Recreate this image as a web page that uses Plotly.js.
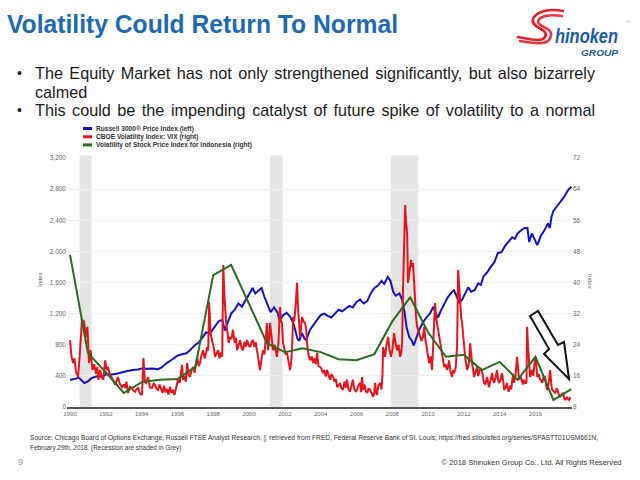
<!DOCTYPE html>
<html><head><meta charset="utf-8">
<script src="https://cdn.plot.ly/plotly-3.0.1.min.js"></script>
<style>
body{margin:0;width:640px;height:480px;overflow:hidden;background:#fff;font-family:"Liberation Sans",Arial,sans-serif;position:relative}
#chart{position:absolute;left:0;top:0;width:640px;height:480px}
.abs{position:absolute;white-space:nowrap}
#title{left:7px;top:9px;font-weight:bold;font-size:25px;color:#1f69b0;transform-origin:left top;display:inline-block;line-height:30px}
#bullets{position:absolute;left:17px;top:64px;width:578px;height:56px;overflow:hidden;font-size:16.2px;line-height:18.5px;color:#1a1a1a;text-align:justify}
.b{position:relative;padding-left:18px}
.b span.dot{position:absolute;left:0;top:0;font-size:14px}
#l3{white-space:nowrap;display:inline-block;transform-origin:left top}
#src{left:30px;top:433px;font-size:6.4px;color:#333;line-height:10px}
#src1{display:inline-block;transform-origin:left top}
#pg{left:18px;top:457px;font-size:9px;color:#999}
#copy{right:18px;top:458px;font-size:7.5px;color:#333;transform-origin:right top}
</style></head><body>
<div id="chart"></div>
<div class="abs" id="title">Volatility Could Return To Normal</div>
<svg class="abs" style="left:510px;top:4px" width="125" height="60" viewBox="510 4 125 60">
  <g fill="none" stroke="#e3202a" stroke-width="2.6" stroke-linecap="round">
    <path d="M563,11 C548,8 536,12 533,19 C531,25 540,28 544,31 C548,35 545,40 538,40 C530,40 524,38 518,37"/>
    <path d="M562,16 C549,14 540,16 538,21 C537,25 545,27 549,30 C553,34 551,42 542,43 C534,44 526,42 520,41" opacity="0.9"/>
  </g>
  <text x="555" y="43" font-family="Liberation Sans, Arial" font-weight="bold" font-style="italic" font-size="20" fill="#1a5aa8" textLength="63" lengthAdjust="spacingAndGlyphs">hinoken</text>
  <text x="581" y="56" font-family="Liberation Sans, Arial" font-weight="bold" font-style="italic" font-size="8.5" fill="#1a5aa8" textLength="37" lengthAdjust="spacingAndGlyphs">GROUP</text>
  <text x="627" y="23" font-family="Liberation Sans, Arial" font-size="4" fill="#777">®</text>
</svg>
<div id="bullets">
  <div class="b"><span class="dot">•</span>The Equity Market has not only strengthened significantly, but also bizarrely calmed</div>
  <div class="b"><span class="dot">•</span><span id="l3">This could be the impending catalyst of future spike of volatility to a normal</span></div>
</div>
<div class="abs" id="src"><span id="src1">Source: Chicago Board of Options Exchange, Russell FTSE Analyst Research, ], retrieved from FRED, Federal Reserve Bank of St. Louis; https://fred.stlouisfed.org/series/SPASTT01USM661N,</span><br>February 29th, 2018. (Recession are shaded in Grey)</div>
<div class="abs" id="pg">9</div>
<div class="abs" id="copy">© 2018 Shinoken Group Co., Ltd. All Rights Reserved</div>
<script>
// ---------------- DATA ----------------
const seriesNames = [
  "Russell 3000® Price Index (left)",
  "CBOE Volatility Index: VIX (right)",
  "Volatility of Stock Price Index for Indonesia (right)"
];
const xTickVals = [1990,1992,1994,1996,1998,2000,2002,2004,2006,2008,2010,2012,2014,2016];
const xTickText = ["1990","1992","1994","1996","1998","2000","2002","2004","2006","2008","2010","2012","2014","2016"];
const leftTicks = [0,400,800,1200,1600,2000,2400,2800,3200];
const rightTicks = [8,16,24,32,40,48,56,64,72];
const recStart = [1990.54, 2001.17, 2007.92];
const recEnd   = [1991.20, 2001.87, 2009.46];

const blueX = [1990.0,1990.25,1990.5,1990.65,1990.8,1991.0,1991.2,1991.5,1991.8,1992.0,1992.3,1992.6,1992.9,1993.2,1993.5,1993.8,1994.1,1994.3,1994.6,1994.9,1995.1,1995.4,1995.7,1996.0,1996.3,1996.5,1996.7,1997.0,1997.2,1997.4,1997.6,1997.8,1998.0,1998.3,1998.5,1998.65,1998.8,1999.0,1999.2,1999.4,1999.6,1999.8,2000.0,2000.2,2000.35,2000.5,2000.7,2000.85,2001.0,2001.2,2001.4,2001.6,2001.7,2001.9,2002.1,2002.3,2002.5,2002.7,2002.8,2002.95,2003.1,2003.2,2003.4,2003.6,2003.8,2004.0,2004.2,2004.4,2004.6,2004.8,2005.0,2005.2,2005.4,2005.6,2005.8,2006.0,2006.2,2006.4,2006.6,2006.8,2007.0,2007.2,2007.4,2007.55,2007.75,2007.9,2008.05,2008.2,2008.4,2008.55,2008.7,2008.8,2008.95,2009.1,2009.2,2009.35,2009.5,2009.7,2009.9,2010.1,2010.3,2010.4,2010.55,2010.7,2010.9,2011.1,2011.3,2011.45,2011.6,2011.75,2011.9,2012.1,2012.25,2012.4,2012.6,2012.8,2012.95,2013.1,2013.3,2013.5,2013.7,2013.9,2014.1,2014.3,2014.5,2014.7,2014.85,2015.0,2015.2,2015.4,2015.55,2015.65,2015.8,2016.0,2016.1,2016.3,2016.5,2016.7,2016.8,2016.9,2017.0,2017.2,2017.4,2017.6,2017.8,2018.0];
const blueY = [347,360,375,340,308,330,370,395,390,420,418,428,448,462,475,482,500,490,495,485,505,565,610,660,680,690,730,800,830,900,960,940,1000,1100,1120,980,1080,1200,1250,1330,1290,1380,1450,1530,1460,1490,1530,1420,1340,1220,1280,1210,1110,1180,1210,1160,1060,880,850,950,880,860,990,1060,1120,1180,1200,1170,1150,1200,1250,1230,1260,1300,1280,1350,1380,1330,1360,1460,1530,1560,1620,1580,1670,1620,1480,1430,1460,1380,1200,1020,900,850,790,900,990,1080,1150,1200,1290,1220,1150,1230,1330,1410,1470,1500,1420,1340,1380,1480,1540,1480,1500,1590,1570,1680,1730,1800,1860,1980,1990,2070,2120,2180,2160,2230,2270,2300,2300,2120,2230,2140,2080,2200,2270,2360,2300,2450,2520,2580,2640,2700,2780,2830];

const redX = [1990.0,1990.08,1990.17,1990.25,1990.33,1990.45,1990.55,1990.67,1990.78,1990.88,1990.97,1991.06,1991.15,1991.25,1991.35,1991.45,1991.52,1991.58,1991.68,1991.78,1991.86,1991.96,1992.05,1992.12,1992.22,1992.35,1992.45,1992.52,1992.6,1992.68,1992.78,1992.9,1993.0,1993.07,1993.15,1993.24,1993.35,1993.46,1993.55,1993.63,1993.72,1993.8,1993.9,1994.02,1994.1,1994.18,1994.25,1994.36,1994.46,1994.58,1994.67,1994.75,1994.84,1994.92,1995.0,1995.08,1995.17,1995.25,1995.33,1995.42,1995.5,1995.58,1995.67,1995.75,1995.83,1995.92,1996.03,1996.12,1996.2,1996.26,1996.31,1996.4,1996.47,1996.54,1996.62,1996.7,1996.78,1996.87,1996.95,1997.03,1997.1,1997.18,1997.26,1997.35,1997.43,1997.52,1997.6,1997.65,1997.72,1997.77,1997.85,1997.93,1998.02,1998.1,1998.18,1998.27,1998.35,1998.43,1998.5,1998.56,1998.62,1998.67,1998.73,1998.78,1998.86,1998.94,1999.02,1999.1,1999.2,1999.27,1999.33,1999.42,1999.5,1999.58,1999.66,1999.75,1999.82,1999.89,1999.97,2000.06,2000.14,2000.22,2000.3,2000.38,2000.45,2000.53,2000.61,2000.7,2000.78,2000.86,2000.93,2001.0,2001.06,2001.12,2001.17,2001.25,2001.34,2001.42,2001.5,2001.56,2001.64,2001.73,2001.79,2001.84,2001.9,2001.98,2002.05,2002.12,2002.2,2002.29,2002.35,2002.4,2002.46,2002.52,2002.6,2002.68,2002.74,2002.8,2002.85,2002.91,2002.96,2003.04,2003.13,2003.2,2003.24,2003.32,2003.4,2003.5,2003.58,2003.66,2003.73,2003.8,2003.88,2003.97,2004.05,2004.13,2004.2,2004.28,2004.36,2004.45,2004.53,2004.6,2004.7,2004.78,2004.85,2004.92,2005.0,2005.08,2005.16,2005.25,2005.33,2005.4,2005.47,2005.55,2005.64,2005.72,2005.8,2005.88,2005.95,2006.03,2006.1,2006.2,2006.26,2006.31,2006.37,2006.45,2006.53,2006.6,2006.68,2006.76,2006.85,2006.93,2007.0,2007.04,2007.1,2007.15,2007.22,2007.32,2007.4,2007.45,2007.49,2007.55,2007.6,2007.68,2007.77,2007.85,2007.93,2008.0,2008.1,2008.18,2008.27,2008.35,2008.44,2008.5,2008.55,2008.6,2008.67,2008.72,2008.78,2008.83,2008.88,2008.95,2009.05,2009.12,2009.16,2009.22,2009.27,2009.33,2009.39,2009.47,2009.55,2009.63,2009.72,2009.78,2009.86,2009.94,2010.0,2010.06,2010.14,2010.22,2010.28,2010.34,2010.39,2010.45,2010.5,2010.56,2010.61,2010.7,2010.78,2010.84,2010.9,2010.98,2011.06,2011.12,2011.17,2011.26,2011.34,2011.4,2011.45,2011.54,2011.62,2011.68,2011.74,2011.79,2011.85,2011.9,2011.96,2012.02,2012.07,2012.13,2012.18,2012.24,2012.3,2012.35,2012.4,2012.46,2012.52,2012.57,2012.65,2012.74,2012.8,2012.85,2012.92,2013.0,2013.06,2013.13,2013.2,2013.3,2013.4,2013.48,2013.58,2013.63,2013.69,2013.77,2013.85,2013.91,2013.97,2014.05,2014.13,2014.2,2014.25,2014.33,2014.4,2014.5,2014.58,2014.64,2014.7,2014.75,2014.8,2014.88,2014.97,2015.03,2015.08,2015.17,2015.25,2015.3,2015.36,2015.45,2015.5,2015.53,2015.58,2015.62,2015.7,2015.75,2015.8,2015.88,2015.98,2016.04,2016.1,2016.18,2016.26,2016.32,2016.37,2016.45,2016.54,2016.6,2016.65,2016.72,2016.82,2016.88,2016.93,2017.02,2017.1,2017.15,2017.2,2017.28,2017.37,2017.45,2017.54,2017.6,2017.65,2017.72,2017.77,2017.82,2017.88,2017.95];
const redY = [25.2,21,19.3,20.5,17,15.7,22,30.4,30,26,28.6,19.3,22.6,17.5,19,16.5,18.3,15,17.5,15.5,15,20,17.5,18.3,16.5,15.5,14.5,13.7,14.5,15.7,14,13.1,13.8,12.9,14.5,11.6,13.2,12.9,12.2,11.9,12.6,12.9,11.5,11.1,20.6,14.5,14.2,15.7,13,12.9,14,13.7,12.6,12.4,13.8,12.9,11.6,13.5,11.8,12.6,11.2,13.2,11.6,12.4,11.1,12.8,15,14.2,17,18.8,15,16,14.5,19.3,16.5,15.7,17.5,18.3,16.8,19.5,20.9,18.5,19.3,21.5,22.6,20.5,21.8,23.4,22.5,35,27,25.2,23.5,20.9,21.8,22.6,20.5,22,20.9,44.5,37,33,29,27.8,24.5,26,25.5,27.8,24.5,25.8,22.6,24,25.2,23.2,22.6,24.8,23.5,25.2,24,23.4,24.8,25.2,23.5,24.6,22.6,21,17.5,20.5,22.6,21.5,25.5,29.6,22.6,25,29.6,26.5,22.6,24,21.5,20.9,24.5,33.7,30,29.6,24.4,23,21.5,21.9,19.5,17.5,19.5,22.6,31.1,30,34,39.9,33,29,26,28.5,31.1,30,29.6,27.5,24.4,21.5,20,21,19.3,20.5,19,21.9,18.5,18.3,17.8,16.7,17.5,15.8,17.5,16,15,16.5,15.7,14.5,15.2,13.1,13.5,14.2,12.8,12.4,14.5,13,15,12.7,11.9,13.5,15,12.5,12,12.4,13.5,14.2,11.8,15.7,12.4,13.8,12,11.6,12.8,12.4,11.2,10.6,12,14.2,11.6,11.1,13.5,14.2,12.5,16,23.4,21.5,20.9,24,26,22.5,20.9,22.5,27,24.5,22.6,24,20.9,22,24.4,38,50,59.9,55,52.7,39.9,43,45.8,44,45,40,34.7,31,28.6,27.5,26,25,26,28.6,25,22.6,20.5,19.3,21,17.5,23.4,30,34.7,31,29.6,27,26,23,21.9,20,18.3,19,17.5,18.5,20,17,15.7,17.5,16.7,18,23.4,43.2,38,35.5,31,29.6,26,23,20.9,19,17.5,18.3,20,24.4,21.5,19.3,17.5,15.7,17,18.3,16,16.7,18,17.5,15.5,14.2,13.8,15.7,13.1,14.5,16.7,15,14.2,15.5,17.5,15,14.2,15,16.7,14.5,12.4,13,14.2,11.9,13.5,12.5,15.7,16.5,14.2,16,20.9,18,15,16,14.2,13.8,15,14,14.5,28.6,24,20.9,15.7,16.5,17.5,16,20.9,19,15.7,16.5,15,14.8,14.2,15.5,15.7,13.5,12.4,13.5,17.5,14,12.4,12,11.6,12.2,12.9,11.5,10.6,11.2,11.6,10.4,9.8,10.2,10.6,10,9.8,10.5];

const greenX = [1990,1991,1992,1993,1994,1995,1996,1997,1998,1999,2000,2001,2002,2003,2004,2005,2006,2007,2008,2009,2010,2011,2012,2013,2014,2015,2016,2017,2018];
const greenY = [47.1,21.9,16.9,11.6,14.4,15.0,15.2,18.3,41.9,44.5,34.5,24.4,22.1,23.1,22.1,20.3,20.0,21.6,30.0,36.2,27.2,20.9,21.4,17.5,19.6,15.0,20.9,9.8,12.6];

// ---------------- STYLE / LAYOUT ----------------
const colors = ["#1212c4", "#e8141b", "#2b6a20"];
const PL = 67, PR = 572, PT = 158, PB = 407;
const px2x = p => (p - PL) / (PR - PL);
const py2y = p => (PB - p) / (PB - PT);
const FONT = "Liberation Sans, Arial, sans-serif";

const traces = [
  {x: blueX, y: blueY, name: seriesNames[0], type: "scatter", mode: "lines", yaxis: "y",
   line: {color: colors[0], width: 2}},
  {x: redX, y: redY, name: seriesNames[1], type: "scatter", mode: "lines", yaxis: "y2",
   line: {color: colors[1], width: 2}},
  {x: greenX, y: greenY, name: seriesNames[2], type: "scatter", mode: "lines", yaxis: "y2",
   line: {color: colors[2], width: 2}}
];

const shapes = [];
recStart.forEach((s, i) => shapes.push({type: "rect", xref: "x", yref: "paper", x0: s, x1: recEnd[i], y0: 0, y1: 1.01,
  fillcolor: "#e4e4e4", line: {width: 0}, layer: "below"}));

// custom legend (compact)
const legendY = [128.5, 136.8, 144.9];
const annotations = [];
seriesNames.forEach((n, i) => {
  shapes.push({type: "line", xref: "paper", yref: "paper", x0: px2x(83), x1: px2x(92), y0: py2y(legendY[i]), y1: py2y(legendY[i]),
    line: {color: colors[i], width: 3}});
  annotations.push({xref: "paper", yref: "paper", x: px2x(94), y: py2y(legendY[i]), xanchor: "left", yanchor: "middle",
    text: "<b>" + n + "</b>", showarrow: false, font: {family: FONT, size: 6.6, color: "#333"}});
});
// axis titles
annotations.push({xref: "paper", yref: "paper", x: px2x(35), y: py2y(280), text: "Index", textangle: -90, showarrow: false,
  font: {family: FONT, size: 6, color: "#666"}});
annotations.push({xref: "paper", yref: "paper", x: px2x(595), y: py2y(281), text: "Index", textangle: 90, showarrow: false,
  font: {family: FONT, size: 6, color: "#666"}});

// outlined arrow (annotation drawing)
const arrowPx = [[530,316],[549,349],[544,354],[569,379],[564,342],[558,345],[538,311]];
shapes.push({type: "path", xref: "paper", yref: "paper",
  path: "M" + arrowPx.map(p => px2x(p[0]).toFixed(4) + "," + py2y(p[1]).toFixed(4)).join(" L") + " Z",
  fillcolor: "rgba(255,255,255,0.9)", line: {color: "#111", width: 2}});

const layout = {
  width: 640, height: 480,
  margin: {l: PL, r: 640 - PR, t: PT, b: 480 - PB, pad: 0},
  paper_bgcolor: "rgba(0,0,0,0)", plot_bgcolor: "rgba(0,0,0,0)",
  showlegend: false,
  font: {family: FONT},
  xaxis: {range: [1989.83, 2018.04], tickmode: "array", tickvals: xTickVals, ticktext: xTickText,
    showgrid: false, zeroline: false, showline: true, linecolor: "#555", linewidth: 1.5, ticks: "",
    tickfont: {size: 6, color: "#666"}, fixedrange: true},
  yaxis: {range: [0, 3200], tickmode: "array", tickvals: leftTicks, tickformat: ",d",
    showgrid: true, gridcolor: "#eeeeee", gridwidth: 1, zeroline: false, showline: false, ticks: "",
    tickfont: {size: 6.5, color: "#666"}},
  yaxis2: {range: [8, 72], overlaying: "y", side: "right", tickmode: "array", tickvals: rightTicks,
    showgrid: false, zeroline: false, showline: false, ticks: "", tickfont: {size: 6.5, color: "#666"}},
  shapes: shapes,
  annotations: annotations
};

Plotly.newPlot("chart", traces, layout, {staticPlot: true, displayModeBar: false});

// fit slide texts to their measured widths
function fitW(id, w) {
  const el = document.getElementById(id);
  const r = el.getBoundingClientRect().width;
  if (r > 0) el.style.transform = "scaleX(" + (w / r) + ")";
}
fitW("title", 391);
fitW("src1", 568);
fitW("copy", 180);
// justify the single visible line of bullet 2 across 560px
(function () {
  const el = document.getElementById("l3");
  const w = el.getBoundingClientRect().width;
  const gaps = (el.textContent.match(/ /g) || []).length;
  if (w < 560) el.style.wordSpacing = ((560 - w) / gaps) + "px";
  else el.style.transform = "scaleX(" + (560 / w) + ")";
})();
</script>
</body></html>
